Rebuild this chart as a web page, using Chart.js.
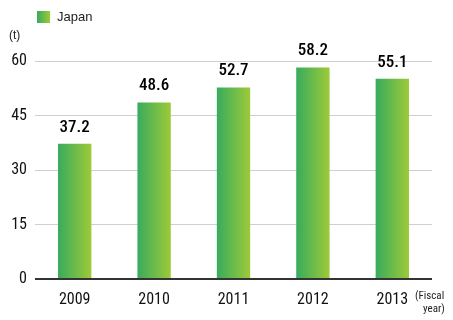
<!DOCTYPE html>
<html>
<head>
<meta charset="utf-8">
<script src="https://cdn.jsdelivr.net/npm/chart.js@4/dist/chart.umd.min.js"></script>
<style>
  html, body { margin: 0; padding: 0; background: #fff; }
  #wrap { position: relative; width: 453px; height: 320px; }
</style>
</head>
<body>
<div id="wrap"><canvas id="grafica"></canvas></div>
<script>
const years = ['2009', '2010', '2011', '2012', '2013'];
const japanValues = [37.2, 48.6, 52.7, 58.2, 55.1];
const yTicks = [0, 15, 30, 45, 60];
const seriesName = 'Japan';

const fontFamily = '"Liberation Sans Narrow", "Roboto Condensed", Arial, sans-serif';

function barGradient(ctx, x0, x1) {
    const g = ctx.createLinearGradient(x0, 0, x1, 0);
    g.addColorStop(0, '#38ab5e');
    g.addColorStop(1, '#9dca38');
    return g;
}

// etiquetas de valor, leyenda y unidades
const extrasPlugin = {
    id: 'extras',
    afterDatasetsDraw(chart) {
        const ctx = chart.ctx;
        const meta = chart.getDatasetMeta(0);
        ctx.save();
        ctx.fillStyle = '#000';
        ctx.font = '500 17px ' + fontFamily;
        ctx.textAlign = 'center';
        ctx.textBaseline = 'bottom';
        meta.data.forEach((bar, i) => {
            ctx.fillText(japanValues[i].toFixed(1), bar.x, bar.y - 8);
        });

        // leyenda
        ctx.fillStyle = barGradient(ctx, 37, 50);
        ctx.fillRect(37, 11, 13, 12);
        ctx.fillStyle = '#222';
        ctx.font = '13px Arial, sans-serif';
        ctx.textAlign = 'left';
        ctx.textBaseline = 'middle';
        ctx.fillText(seriesName, 57, 17);

        // unidad
        ctx.font = '12px Arial, sans-serif';
        ctx.fillText('(t)', 9, 36);

        // (Fiscal year)
        ctx.font = '11px ' + fontFamily;
        ctx.fillText('(Fiscal', 415, 296);
        ctx.fillText('year)', 423, 309);

        // linea del cero
        const y0 = chart.scales.y.getPixelForValue(0);
        ctx.strokeStyle = '#333';
        ctx.lineWidth = 2;
        ctx.beginPath();
        ctx.moveTo(35, y0);
        ctx.lineTo(432, y0);
        ctx.stroke();
        ctx.restore();
    }
};

const ctxGrafica = document.getElementById('grafica').getContext('2d');
new Chart(ctxGrafica, {
    type: 'bar',
    data: {
        labels: years,
        datasets: [{
            label: seriesName,
            data: japanValues,
            backgroundColor: function (context) {
                const chart = context.chart;
                if (!chart.chartArea || !chart.scales.x) return '#6bbb4a';
                const x = chart.scales.x.getPixelForValue(context.dataIndex);
                const w = (chart.chartArea.width / years.length) * 0.42;
                return barGradient(chart.ctx, x - w / 2, x + w / 2);
            },
            borderWidth: 0,
            categoryPercentage: 1,
            barPercentage: 0.42
        }]
    },
    options: {
        responsive: true,
        maintainAspectRatio: false,
        animation: false,
        layout: { padding: { top: 61, right: 21, bottom: 0, left: 0 } },
        plugins: {
            legend: { display: false },
            tooltip: { enabled: false }
        },
        scales: {
            x: {
                grid: { display: false },
                border: { display: false },
                ticks: {
                    color: '#111',
                    font: { family: fontFamily, size: 16 },
                    padding: 3
                },
                afterFit(scale) { scale.height = 41; }
            },
            y: {
                min: 0,
                max: 60,
                afterBuildTicks(scale) { scale.ticks = yTicks.map(v => ({ value: v })); },
                grid: { color: '#cfcfcf', lineWidth: 1, drawTicks: false },
                border: { display: false },
                ticks: {
                    color: '#111',
                    font: { family: fontFamily, size: 16 },
                    padding: 8
                },
                afterFit(scale) { scale.width = 35; }
            }
        }
    },
    plugins: [extrasPlugin]
});
</script>
</body>
</html>
